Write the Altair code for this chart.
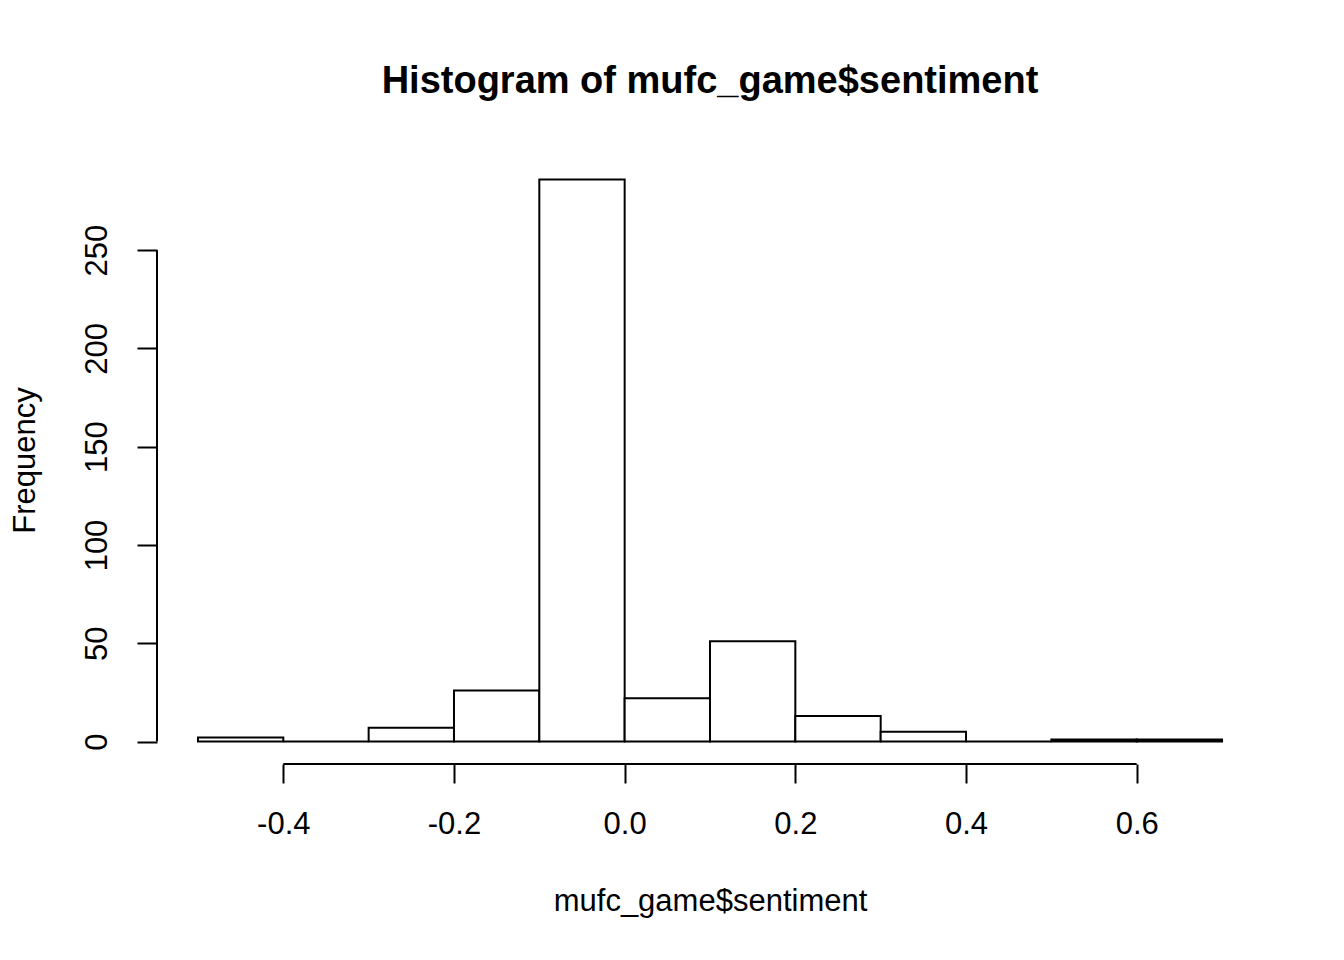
import altair as alt
import pandas as pd

bin_starts = [-0.5, -0.4, -0.3, -0.2, -0.1, 0.0, 0.1, 0.2, 0.3, 0.4, 0.5, 0.6]
counts = [2, 0, 7, 26, 286, 22, 51, 13, 5, 0, 1, 1]
x_ticks = [-0.4, -0.2, 0.0, 0.2, 0.4, 0.6]
y_ticks = [0, 50, 100, 150, 200, 250]

bars = pd.DataFrame({
    "start": bin_starts,
    "end": [round(s + 0.1, 1) for s in bin_starts],
    "count": counts,
})

font = "Liberation Sans"
x_scale = alt.Scale(domain=[-0.548, 0.748], nice=False, zero=False)
y_scale = alt.Scale(domain=[-11.44, 297.44], nice=False, zero=False)

hist = alt.Chart(bars).mark_rect(fill="white", stroke="black", strokeWidth=2).encode(
    x=alt.X(
        "start:Q", scale=x_scale, title="mufc_game$sentiment",
        axis=alt.Axis(
            values=x_ticks, format=".1f", domain=False, grid=False, tickSize=19,
            tickWidth=2, tickColor="black", labelFont=font, labelFontSize=31,
            labelExpr="replace(datum.label, '\u2212', '-')",
            labelColor="black", labelPadding=26, labelBaseline="top",
            titleFont=font, titleFontSize=31, titleFontWeight="normal",
            titleColor="black", titleX=553, titleY=137, titleBaseline="middle",
            labelFlush=False, labelOverlap=False,
        ),
    ),
    x2="end:Q",
    y=alt.Y(
        "count:Q", scale=y_scale, title="Frequency",
        axis=alt.Axis(
            values=y_ticks, domain=False, grid=False, tickSize=20, tickWidth=2,
            tickColor="black", labelFont=font, labelFontSize=31, labelColor="black",
            labelAngle=270, labelAlign="center", labelBaseline="bottom",
            labelPadding=24, titleFont=font, titleFontSize=31,
            titleFontWeight="normal", titleColor="black", titleX=-132,
            titleY=303, titleBaseline="middle", titleAngle=270,
            labelOverlap=False, labelFlush=False,
        ),
    ),
    y2=alt.datum(0),
)

x_line = alt.Chart(pd.DataFrame({"a": [min(x_ticks)], "b": [max(x_ticks)]})).mark_rule(
    color="black", strokeWidth=2
).encode(x=alt.X("a:Q", scale=x_scale), x2="b:Q", y=alt.value(607))

y_line = alt.Chart(pd.DataFrame({"a": [min(y_ticks)], "b": [max(y_ticks)]})).mark_rule(
    color="black", strokeWidth=2
).encode(y=alt.Y("a:Q", scale=y_scale), y2="b:Q", x=alt.value(0))

chart = alt.layer(hist, x_line, y_line).properties(
    width=1106,
    height=607,
    autosize=alt.AutoSizeParams(type="none"),
    padding={"left": 149, "top": 149, "right": 70, "bottom": 180},
    title=alt.TitleParams(
        "Histogram of mufc_game$sentiment", font=font, fontSize=38,
        fontWeight="bold", color="black", anchor="middle", offset=56,
    ),
).configure(background="white").configure_view(stroke=None, strokeWidth=0)

chart.save("out.html", embed_options={"renderer": "svg", "actions": False})
